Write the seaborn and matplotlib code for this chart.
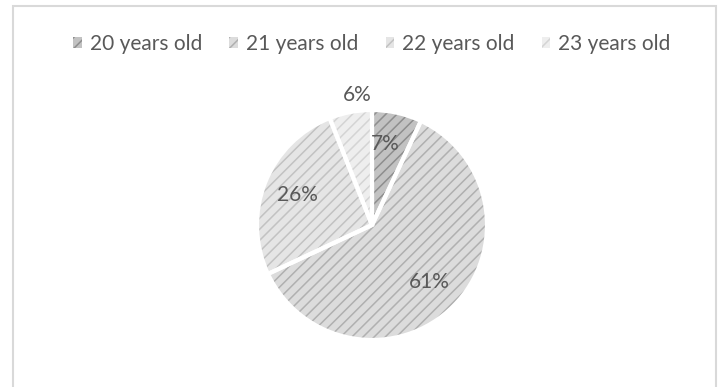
import matplotlib
matplotlib.use("Agg")
import matplotlib.pyplot as plt
import seaborn as sns
import numpy as np
from matplotlib.patches import Patch, Rectangle

categories = ["20 years old", "21 years old", "22 years old", "23 years old"]
shares = [7, 61, 26, 6]
labels_pct = ["7%", "61%", "26%", "6%"]
face_colors = ["#c2c2c2", "#dcdcdc", "#e5e5e5", "#eeeeee"]
hatch_colors = ["#8e8e8e", "#b0b0b0", "#c2c2c2", "#d4d4d4"]

sns.set_theme(style="white")
plt.rcParams["font.family"] = ["Lato", "DejaVu Sans"]
plt.rcParams["hatch.linewidth"] = 1.1

W, H = 722, 387
fig = plt.figure(figsize=(W / 100, H / 100), dpi=100)
fig.patch.set_facecolor("white")

cx, cy, r = 372, 225, 115
ax = fig.add_axes([(cx - r) / W, (H - cy - r) / H, 2 * r / W, 2 * r / H])

# hatched fill layer
wedges, _ = ax.pie(shares, startangle=90, counterclock=False,
                   colors=face_colors, radius=1.0,
                   wedgeprops=dict(linewidth=0, hatch="///"))
for w, hc in zip(wedges, hatch_colors):
    w.set_edgecolor(hc)
    w.set_linewidth(0)

# white separators
ax.pie(shares, startangle=90, counterclock=False,
       colors=["none"] * len(shares), radius=1.0,
       wedgeprops=dict(linewidth=3, edgecolor="white"))

dists = [0.72, 0.70, 0.70, 1.15]
dx = [-0.04, 0.0, 0.0, 0.09]
for w, lab, d, ox in zip(wedges, labels_pct, dists, dx):
    ang = np.deg2rad((w.theta1 + w.theta2) / 2)
    ax.text(d * np.cos(ang) + ox, d * np.sin(ang), lab, ha="center", va="center",
            fontsize=15, color="#595959")

ax.set_xlim(-1, 1)
ax.set_ylim(-1, 1)
ax.set_aspect("equal")
ax.axis("off")

handles = [Patch(facecolor=fc, edgecolor=hc, hatch="///", linewidth=0)
           for fc, hc in zip(face_colors, hatch_colors)]
fig.legend(handles, categories, loc="center", bbox_to_anchor=(372 / W, 1 - 44 / H),
           ncol=4, frameon=False, fontsize=15, handlelength=0.4, handleheight=0.4,
           handletextpad=0.4, columnspacing=1.3, labelcolor="#595959")

# chart border (bottom edge outside the image)
fig.patches.append(Rectangle((13 / W, -0.05), (716 - 13) / W, (H - 6) / H + 0.05,
                             transform=fig.transFigure, fill=False,
                             edgecolor="#d9d9d9", linewidth=1.5))

fig.savefig("out.png", dpi=100)
